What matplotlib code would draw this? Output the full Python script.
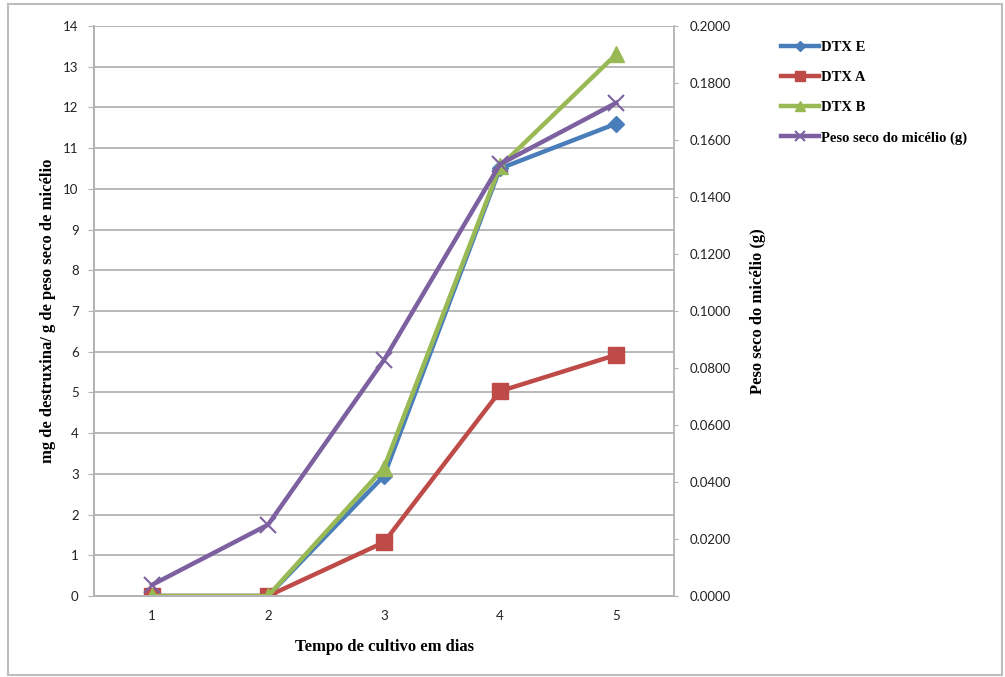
import matplotlib
matplotlib.use("Agg")
import matplotlib.pyplot as plt
from matplotlib.patches import Rectangle
from matplotlib.ticker import FormatStrFormatter

# dias de cultivo
dias = [1, 2, 3, 4, 5]

# mg de destruxina / g de peso seco
dtx_e = [0.0, 0.0, 2.95, 10.5, 11.6]
dtx_a = [0.0, 0.0, 1.32, 5.03, 5.92]
dtx_b = [0.0, 0.0, 3.15, 10.55, 13.3]
# peso seco do micélio (g)
peso_seco = [0.0039, 0.0250, 0.0828, 0.1515, 0.1730]

BLUE = "#4A7EBB"
RED = "#BE4B48"
GREEN = "#98B954"
PURPLE = "#7D60A0"
GRID = "#B3B3B3"

tick_font = "Lato"
lab_font = "Liberation Serif"

fig = plt.figure(figsize=(10.05, 6.77), dpi=100)
fig.patches.append(Rectangle((8 / 1005, 2 / 677), 994 / 1005, 671 / 677,
                             transform=fig.transFigure, fill=False,
                             edgecolor="#BDBDBD", linewidth=1.5))

ax = fig.add_axes([94 / 1005, 1 - 596 / 677, 580 / 1005, 570 / 677])
ax2 = ax.twinx()

lw = 3.2
l1, = ax.plot(dias, dtx_e, color=BLUE, lw=lw, marker="D", ms=8, label="DTX E")
l2, = ax.plot(dias, dtx_a, color=RED, lw=lw, marker="s", ms=11, label="DTX A")
l3, = ax.plot(dias, dtx_b, color=GREEN, lw=lw, marker="^", ms=11, label="DTX B")
l4, = ax2.plot(dias, peso_seco, color=PURPLE, lw=lw, marker="x", ms=11, mew=1.5,
               label="Peso seco do micélio (g)")

ax.set_xlim(0.5, 5.5)
ax.set_ylim(0, 14)
ax.set_yticks(range(0, 15))
ax2.set_ylim(0, 0.2)
ax2.set_yticks([i * 0.02 for i in range(11)])
ax2.yaxis.set_major_formatter(FormatStrFormatter("%.4f"))
ax.set_xticks(dias)

ax.grid(axis="y", color=GRID, lw=1.3)
ax.set_axisbelow(True)
for a in (ax, ax2):
    for s in a.spines.values():
        s.set_color(GRID)
        s.set_linewidth(1.3)
    a.spines["top"].set_visible(False)
ax.spines["right"].set_visible(False)
ax.tick_params(axis="y", length=4, color=GRID, labelsize=9.5, pad=7)
ax.tick_params(axis="x", length=0, labelsize=9.5, pad=10)
ax2.tick_params(axis="y", length=3, color=GRID, labelsize=9.5, pad=8)
for lab in ax.get_xticklabels() + ax.get_yticklabels() + ax2.get_yticklabels():
    lab.set_fontfamily(tick_font)
    lab.set_color("#222222")

ax.set_xlabel("Tempo de cultivo em dias", fontfamily=lab_font, fontweight="bold",
              fontsize=12, labelpad=12)
ax.set_ylabel("mg de destruxina/ g de peso seco de micélio", fontfamily=lab_font,
              fontweight="bold", fontsize=12, labelpad=5)
ax2.set_ylabel("Peso seco do micélio (g)", fontfamily=lab_font, fontweight="bold",
               fontsize=12, labelpad=14)

fig.legend(handles=[l1, l2, l3, l4], loc="upper left",
           bbox_to_anchor=(768 / 1005, 1 - 28 / 677), frameon=False,
           handlelength=2.6, handletextpad=0.1, labelspacing=1.15, markerscale=0.6,
           prop={"family": lab_font, "weight": "bold", "size": 10.5})

fig.savefig("out.png", dpi=100)
